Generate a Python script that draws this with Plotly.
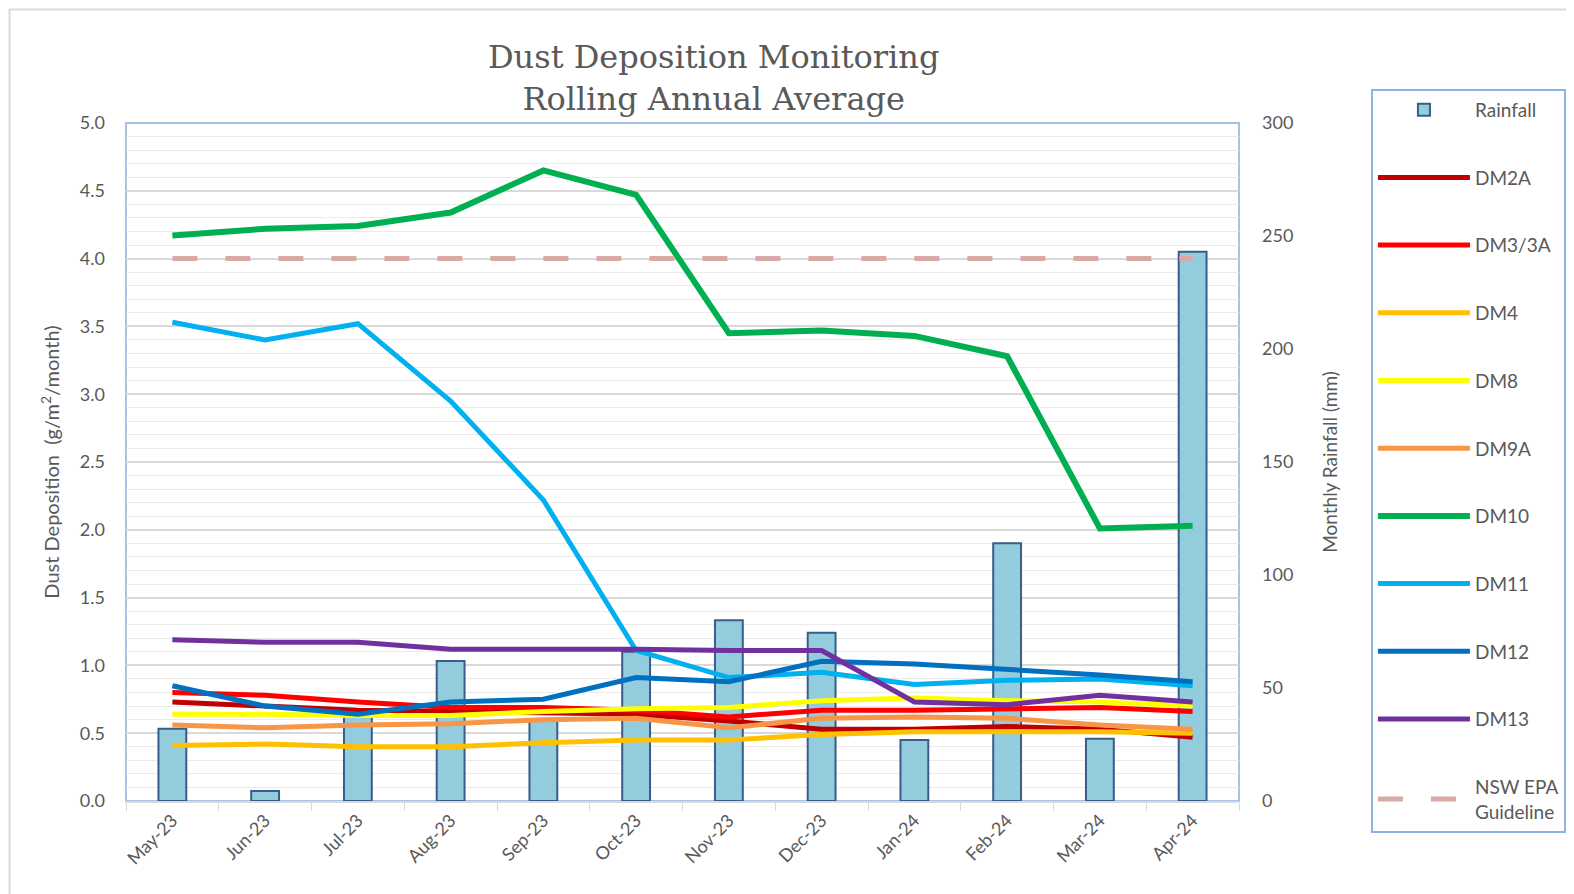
import plotly.graph_objects as go

months = ["May-23", "Jun-23", "Jul-23", "Aug-23", "Sep-23", "Oct-23",
          "Nov-23", "Dec-23", "Jan-24", "Feb-24", "Mar-24", "Apr-24"]

rainfall = [32, 4.4, 38, 62, 36, 66, 80, 74.5, 27, 114, 27.5, 243]

dm2a = [0.73, 0.70, 0.67, 0.66, 0.65, 0.64, 0.59, 0.53, 0.53, 0.55, 0.53, 0.47]
dm3 = [0.80, 0.78, 0.73, 0.69, 0.69, 0.67, 0.62, 0.67, 0.67, 0.68, 0.69, 0.66]
dm4 = [0.41, 0.42, 0.40, 0.40, 0.43, 0.45, 0.45, 0.49, 0.51, 0.51, 0.51, 0.50]
dm8 = [0.64, 0.64, 0.63, 0.63, 0.66, 0.68, 0.69, 0.74, 0.76, 0.74, 0.73, 0.70]
dm9a = [0.56, 0.54, 0.56, 0.57, 0.60, 0.61, 0.54, 0.61, 0.62, 0.61, 0.56, 0.53]
dm10 = [4.17, 4.22, 4.24, 4.34, 4.65, 4.47, 3.45, 3.47, 3.43, 3.28, 2.01, 2.03]
dm11 = [3.53, 3.40, 3.52, 2.95, 2.22, 1.11, 0.91, 0.95, 0.86, 0.89, 0.90, 0.85]
dm12 = [0.85, 0.70, 0.64, 0.73, 0.75, 0.91, 0.88, 1.03, 1.01, 0.97, 0.93, 0.88]
dm13 = [1.19, 1.17, 1.17, 1.12, 1.12, 1.12, 1.11, 1.11, 0.73, 0.71, 0.78, 0.73]
guideline = [4.0] * 12

series = [
    ("DM2A", dm2a, "#C00000"),
    ("DM3/3A", dm3, "#FF0000"),
    ("DM4", dm4, "#FFC000"),
    ("DM8", dm8, "#FFFF00"),
    ("DM9A", dm9a, "#F79646"),
    ("DM10", dm10, "#00B050"),
    ("DM11", dm11, "#00B0F0"),
    ("DM12", dm12, "#0070C0"),
    ("DM13", dm13, "#7030A0"),
]

FONT = "Lato, 'Open Sans', sans-serif"
GRAY = "#595959"

# figure is placed at page offset (8, 8) by the browser's default body margin
W, H = 1566, 886
L, R, T, B = 117.5, 335, 114.5, 93
PW, PH = W - L - R, H - T - B

fig = go.Figure()

fig.add_trace(go.Bar(
    x=months, y=rainfall, name="Rainfall", yaxis="y",
    marker=dict(color="#93CDDD", line=dict(color="#385D8A", width=2)),
    width=0.3, legendgroup="g0",
))

for i, (name, vals, col) in enumerate(series):
    fig.add_trace(go.Scatter(
        x=months, y=vals, name=name, yaxis="y2", mode="lines",
        line=dict(color=col, width=6 if name == "DM10" else 5),
        legendgroup=f"g{i+1}",
    ))

fig.add_trace(go.Scatter(
    x=months, y=guideline, name="NSW EPA<br>Guideline", yaxis="y2", mode="lines",
    line=dict(color="#D9A9A6", width=5, dash="25px,28px"),
    legendgroup="g99",
))

fig.update_layout(
    width=W, height=H,
    margin=dict(l=L, r=R, t=T, b=B, autoexpand=False),
    paper_bgcolor="white", plot_bgcolor="white",
    font=dict(family=FONT, color=GRAY, size=18),
    title=dict(
        text="Dust Deposition Monitoring<br>Rolling Annual Average",
        font=dict(family="'DejaVu Serif', 'Liberation Serif', serif", size=32, color=GRAY),
        x=705.7 / W, xanchor="center", xref="container",
        y=1 - 60 / H, yanchor="top", yref="container",
    ),
    xaxis=dict(
        type="category", tickangle=-45, tickson="boundaries",
        ticks="outside", ticklen=8, tickcolor="#D9D9D9",
        showline=True, linecolor="#D9D9D9", linewidth=2,
        showgrid=False, tickfont=dict(size=18, color=GRAY, family=FONT),
        range=[-0.5, 11.5], automargin=False,
    ),
    yaxis=dict(
        side="right", range=[0, 300], dtick=50, showgrid=False,
        zeroline=False, ticks="", ticklabelstandoff=22, automargin=False,
        tickfont=dict(size=18, color=GRAY, family=FONT),
        title=dict(text="Monthly Rainfall (mm)", font=dict(size=19, color=GRAY, family=FONT), standoff=31),
    ),
    yaxis2=dict(
        overlaying="y", side="left", range=[0, 5], dtick=0.5, tickformat=".1f",
        showgrid=True, gridcolor="#D9D9D9", gridwidth=1.5, zeroline=False,
        minor=dict(dtick=0.1, showgrid=True, gridcolor="#EBEBEB", gridwidth=1),
        ticks="", ticklabelstandoff=20, automargin=False,
        tickfont=dict(size=18, color=GRAY, family=FONT),
        title=dict(text="Dust Deposition  (g/m<sup>2</sup>/month)", font=dict(size=20, color=GRAY, family=FONT), standoff=14),
    ),
    legend=dict(
        x=(1363 - L) / PW, xanchor="left",
        y=(H - B - 80.3) / PH, yanchor="top",
        bordercolor="#8EB4E3", borderwidth=2, bgcolor="white",
        font=dict(size=19, color=GRAY, family=FONT),
        tracegroupgap=40, traceorder="grouped",
        itemwidth=92, maxheight=800,
    ),
    bargap=0.7,
    shapes=[
        dict(type="rect", xref="paper", yref="paper", x0=0, x1=1, y0=0, y1=1,
             line=dict(color="#A6C3E6", width=2), layer="below"),
        dict(type="rect", xref="paper", yref="paper",
             x0=(1 - L) / PW, x1=(W + 20 - L) / PW,
             y0=(H - B - (H + 20)) / PH, y1=(H - B - 1) / PH,
             line=dict(color="#D9D9D9", width=2), layer="below"),
    ],
)

fig.write_html("out.html")
